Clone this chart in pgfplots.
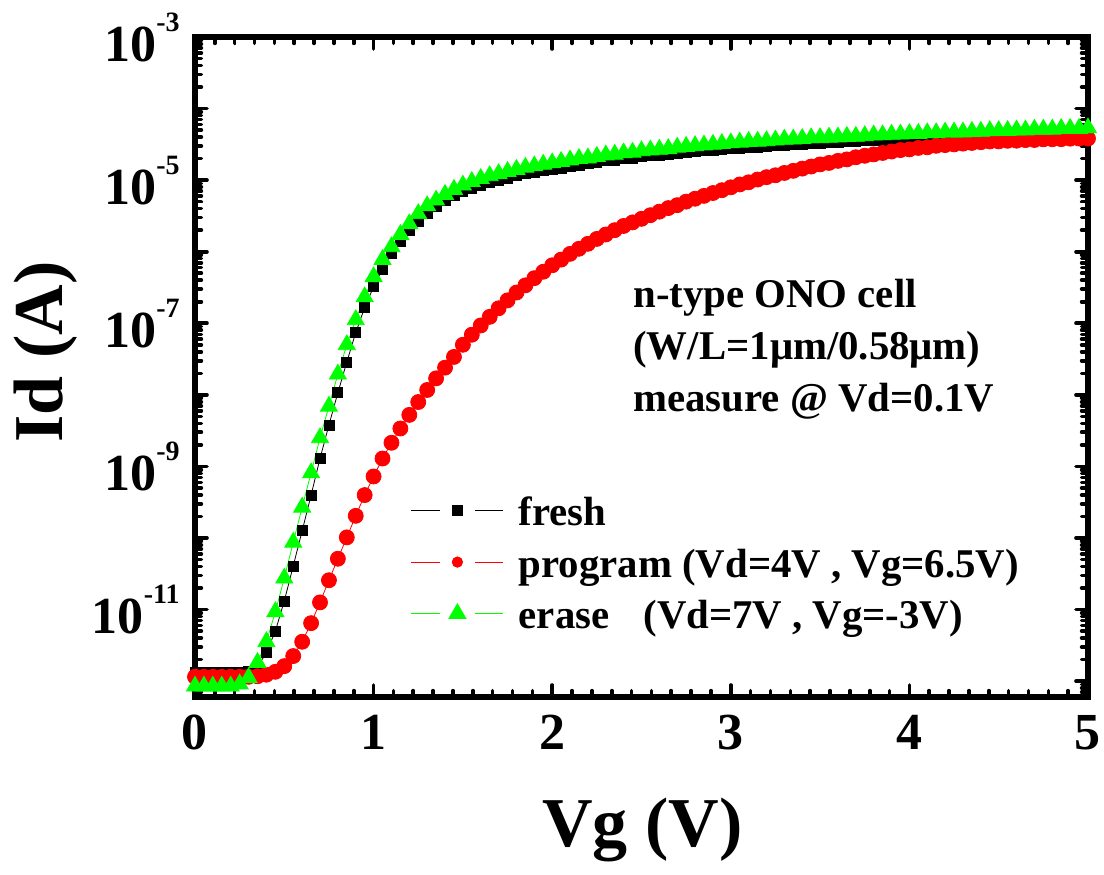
\documentclass[border=0pt]{standalone}
\usepackage{pgfplots}
\pgfplotsset{compat=1.18}
\usepackage{pgfplotstable}
\usepackage{fontspec}
\setmainfont{Liberation Serif}

% power-of-ten tick label with a raised, hyphen-style exponent
\newcommand{\dexp}[1]{10\raisebox{15pt}{\fontsize{14}{14}\selectfont -#1}}

% Id-Vg transfer curves, Vd = 0.1 V
\pgfplotstableread{
Vg Id
0.00 1.32e-12
0.05 1.32e-12
0.10 1.32e-12
0.15 1.32e-12
0.20 1.32e-12
0.25 1.32e-12
0.30 1.35e-12
0.35 1.58e-12
0.40 2.51e-12
0.45 5.01e-12
0.50 1.32e-11
0.55 4.07e-11
0.60 1.26e-10
0.65 3.98e-10
0.70 1.29e-9
0.75 3.80e-9
0.80 1.07e-8
0.85 2.88e-8
0.90 7.41e-8
0.95 1.66e-7
1.00 3.24e-7
1.05 5.75e-7
1.10 9.33e-7
1.15 1.41e-6
1.20 2.00e-6
1.25 2.69e-6
1.30 3.47e-6
1.35 4.27e-6
1.40 5.13e-6
1.45 6.03e-6
1.50 6.92e-6
1.55 7.76e-6
1.60 8.51e-6
1.65 9.33e-6
1.70 1.00e-5
1.75 1.07e-5
1.80 1.15e-5
1.85 1.23e-5
1.90 1.29e-5
1.95 1.35e-5
2.00 1.41e-5
2.05 1.48e-5
2.10 1.55e-5
2.15 1.62e-5
2.20 1.70e-5
2.25 1.78e-5
2.30 1.86e-5
2.35 1.91e-5
2.40 2.00e-5
2.45 2.04e-5
2.50 2.14e-5
2.55 2.19e-5
2.60 2.24e-5
2.65 2.29e-5
2.70 2.40e-5
2.75 2.45e-5
2.80 2.51e-5
2.85 2.57e-5
2.90 2.63e-5
2.95 2.69e-5
3.00 2.75e-5
3.05 2.82e-5
3.10 2.88e-5
3.15 2.91e-5
3.20 2.95e-5
3.25 3.02e-5
3.30 3.09e-5
3.35 3.16e-5
3.40 3.18e-5
3.45 3.24e-5
3.50 3.31e-5
3.55 3.33e-5
3.60 3.39e-5
3.65 3.47e-5
3.70 3.49e-5
3.75 3.55e-5
3.80 3.63e-5
3.85 3.65e-5
3.90 3.72e-5
3.95 3.74e-5
4.00 3.80e-5
4.05 3.89e-5
4.10 3.91e-5
4.15 3.98e-5
4.20 4.00e-5
4.25 4.07e-5
4.30 4.09e-5
4.35 4.17e-5
4.40 4.19e-5
4.45 4.27e-5
4.50 4.29e-5
4.55 4.37e-5
4.60 4.39e-5
4.65 4.47e-5
4.70 4.48e-5
4.75 4.50e-5
4.80 4.57e-5
4.85 4.58e-5
4.90 4.60e-5
4.95 4.68e-5
5.00 4.70e-5
}\fresh

\pgfplotstableread{
Vg Id
0.00 1.15e-12
0.05 1.15e-12
0.10 1.15e-12
0.15 1.15e-12
0.20 1.15e-12
0.25 1.15e-12
0.30 1.15e-12
0.35 1.17e-12
0.40 1.23e-12
0.45 1.35e-12
0.50 1.62e-12
0.55 2.24e-12
0.60 3.55e-12
0.65 6.46e-12
0.70 1.26e-11
0.75 2.57e-11
0.80 5.13e-11
0.85 1.02e-10
0.90 2.04e-10
0.95 3.98e-10
1.00 7.24e-10
1.05 1.29e-9
1.10 2.14e-9
1.15 3.39e-9
1.20 5.25e-9
1.25 7.94e-9
1.30 1.17e-8
1.35 1.70e-8
1.40 2.40e-8
1.45 3.39e-8
1.50 5.01e-8
1.55 6.92e-8
1.60 9.33e-8
1.65 1.23e-7
1.70 1.62e-7
1.75 2.09e-7
1.80 2.69e-7
1.85 3.39e-7
1.90 4.27e-7
1.95 5.25e-7
2.00 6.46e-7
2.05 7.76e-7
2.10 9.33e-7
2.15 1.10e-6
2.20 1.29e-6
2.25 1.51e-6
2.30 1.74e-6
2.35 2.00e-6
2.40 2.29e-6
2.45 2.57e-6
2.50 2.88e-6
2.55 3.24e-6
2.60 3.63e-6
2.65 4.07e-6
2.70 4.47e-6
2.75 5.01e-6
2.80 5.50e-6
2.85 6.03e-6
2.90 6.61e-6
2.95 7.24e-6
3.00 7.94e-6
3.05 8.71e-6
3.10 9.33e-6
3.15 1.02e-5
3.20 1.10e-5
3.25 1.17e-5
3.30 1.26e-5
3.35 1.35e-5
3.40 1.45e-5
3.45 1.55e-5
3.50 1.66e-5
3.55 1.74e-5
3.60 1.86e-5
3.65 1.95e-5
3.70 2.09e-5
3.75 2.19e-5
3.80 2.29e-5
3.85 2.40e-5
3.90 2.51e-5
3.95 2.63e-5
4.00 2.69e-5
4.05 2.82e-5
4.10 2.88e-5
4.15 3.02e-5
4.20 3.09e-5
4.25 3.16e-5
4.30 3.24e-5
4.35 3.31e-5
4.40 3.39e-5
4.45 3.47e-5
4.50 3.48e-5
4.55 3.55e-5
4.60 3.56e-5
4.65 3.63e-5
4.70 3.64e-5
4.75 3.72e-5
4.80 3.73e-5
4.85 3.74e-5
4.90 3.80e-5
4.95 3.81e-5
5.00 3.82e-5
}\program

\pgfplotstableread{
Vg Id
0.00 8.51e-13
0.05 8.51e-13
0.10 8.51e-13
0.15 8.51e-13
0.20 8.51e-13
0.25 9.12e-13
0.30 1.12e-12
0.35 1.82e-12
0.40 3.55e-12
0.45 9.33e-12
0.50 2.75e-11
0.55 8.71e-11
0.60 2.69e-10
0.65 8.13e-10
0.70 2.51e-9
0.75 6.92e-9
0.80 1.95e-8
0.85 5.01e-8
0.90 1.12e-7
0.95 2.34e-7
1.00 4.47e-7
1.05 7.76e-7
1.10 1.17e-6
1.15 1.74e-6
1.20 2.45e-6
1.25 3.39e-6
1.30 4.37e-6
1.35 5.25e-6
1.40 6.31e-6
1.45 7.41e-6
1.50 8.51e-6
1.55 9.55e-6
1.60 1.05e-5
1.65 1.15e-5
1.70 1.23e-5
1.75 1.32e-5
1.80 1.41e-5
1.85 1.51e-5
1.90 1.58e-5
1.95 1.66e-5
2.00 1.74e-5
2.05 1.82e-5
2.10 1.91e-5
2.15 2.00e-5
2.20 2.04e-5
2.25 2.14e-5
2.30 2.24e-5
2.35 2.29e-5
2.40 2.40e-5
2.45 2.45e-5
2.50 2.57e-5
2.55 2.63e-5
2.60 2.69e-5
2.65 2.75e-5
2.70 2.88e-5
2.75 2.95e-5
2.80 3.02e-5
2.85 3.09e-5
2.90 3.16e-5
2.95 3.24e-5
3.00 3.31e-5
3.05 3.39e-5
3.10 3.47e-5
3.15 3.49e-5
3.20 3.55e-5
3.25 3.63e-5
3.30 3.72e-5
3.35 3.74e-5
3.40 3.80e-5
3.45 3.89e-5
3.50 3.91e-5
3.55 3.98e-5
3.60 4.00e-5
3.65 4.07e-5
3.70 4.09e-5
3.75 4.17e-5
3.80 4.27e-5
3.85 4.29e-5
3.90 4.37e-5
3.95 4.39e-5
4.00 4.47e-5
4.05 4.48e-5
4.10 4.57e-5
4.15 4.58e-5
4.20 4.68e-5
4.25 4.69e-5
4.30 4.70e-5
4.35 4.79e-5
4.40 4.80e-5
4.45 4.90e-5
4.50 4.91e-5
4.55 4.92e-5
4.60 5.01e-5
4.65 5.02e-5
4.70 5.13e-5
4.75 5.14e-5
4.80 5.15e-5
4.85 5.25e-5
4.90 5.26e-5
4.95 5.27e-5
5.00 5.37e-5
}\erase

\begin{document}
\begin{tikzpicture}
\useasboundingbox (0,0) rectangle (552pt,437pt);
\begin{axis}[
  at={(97.5pt,88.5pt)}, anchor=south west,
  scale only axis, width=446.5pt, height=330pt,
  ymode=log,
  xmin=0, xmax=5, ymin=6e-13, ymax=1e-3,
  axis line style={line width=3pt},
  tick align=inside,
  xtick pos=both, ytick pos=both,
  tick style={black, line width=1.8pt, line cap=round},
  major tick length=6pt, minor tick length=3.2pt,
  xtick={0,1,2,3,4,5},
  xticklabels={0,1,2,3,4,5},
  minor x tick num=8,
  ytick={1e-12,1e-11,1e-10,1e-9,1e-8,1e-7,1e-6,1e-5,1e-4,1e-3},
  yticklabels={{},\dexp{11},{},\dexp{9},{},\dexp{7},{},\dexp{5},{},\dexp{3}},
  minor ytick={7e-13,8e-13,9e-13,
    2e-12,3e-12,4e-12,5e-12,6e-12,7e-12,8e-12,9e-12,
    2e-11,3e-11,4e-11,5e-11,6e-11,7e-11,8e-11,9e-11,
    2e-10,3e-10,4e-10,5e-10,6e-10,7e-10,8e-10,9e-10,
    2e-9,3e-9,4e-9,5e-9,6e-9,7e-9,8e-9,9e-9,
    2e-8,3e-8,4e-8,5e-8,6e-8,7e-8,8e-8,9e-8,
    2e-7,3e-7,4e-7,5e-7,6e-7,7e-7,8e-7,9e-7,
    2e-6,3e-6,4e-6,5e-6,6e-6,7e-6,8e-6,9e-6,
    2e-5,3e-5,4e-5,5e-5,6e-5,7e-5,8e-5,9e-5,
    2e-4,3e-4,4e-4,5e-4,6e-4,7e-4,8e-4,9e-4},
  ticklabel style={font=\fontsize{26}{30}\selectfont\bfseries, inner sep=0pt},
  xticklabel style={anchor=north, yshift=-9pt},
  yticklabel style={anchor=east, xshift=-7.5pt},
  xlabel={Vg (V)},
  ylabel={Id (A)},
  xlabel style={at={(axis description cs:0.501,-0.227)}, anchor=base,
    font=\fontsize{35}{40}\selectfont\bfseries, inner sep=0pt},
  ylabel style={at={(axis description cs:-0.148,0.523)}, anchor=base, rotate=0,
    font=\fontsize{35}{40}\selectfont\bfseries, inner sep=0pt},
  legend image code/.code={%
    \draw[mark=none] (0pt,7.7pt) -- (14.5pt,7.7pt);
    \draw[mark=none] (32pt,7.7pt) -- (46pt,7.7pt);
    \draw plot coordinates {(23pt,7.7pt)};
  },
  legend style={at={(axis description cs:0.2419,0.3076)}, anchor=north west,
    draw=none, fill=none, inner sep=0pt, outer sep=0pt,
    row sep=6.25pt, column sep=5.5pt,
    font=\fontsize{20.4}{24}\selectfont\bfseries,
    cells={anchor=base west, inner sep=0pt, text height=14pt, text depth=5pt}},
]
\addplot[black, line width=0.4pt, mark=square*, mark size=2.5pt,
  mark options={solid, fill=black}]
  table[x=Vg, y=Id]{\fresh};
\addlegendentry{fresh}
\addplot[red, line width=0.4pt, mark=*, mark size=3.75pt,
  mark options={solid, fill=red, draw=red},
  legend image post style={mark size=2.6pt}]
  table[x=Vg, y=Id]{\program};
\addlegendentry{program (Vd=4V , Vg=6.5V)}
\addplot[green, line width=0.4pt, mark=triangle*, mark size=4.9pt,
  mark options={solid, fill=green, draw=green}]
  table[x=Vg, y=Id]{\erase};
\addlegendentry{erase\hspace{17pt}(Vd=7V , Vg=-3V)}
\end{axis}
\begin{scope}[every node/.style={anchor=base west, inner sep=0pt,
    font=\fontsize{20.4}{24}\selectfont\bfseries}]
\node at (316.5pt,283pt) {n-type ONO cell};
\node at (316.5pt,257pt) {(W/L=1μm/0.58μm)};
\node at (316.5pt,231pt) {measure @ Vd=0.1V};
\end{scope}
\end{tikzpicture}
\end{document}
